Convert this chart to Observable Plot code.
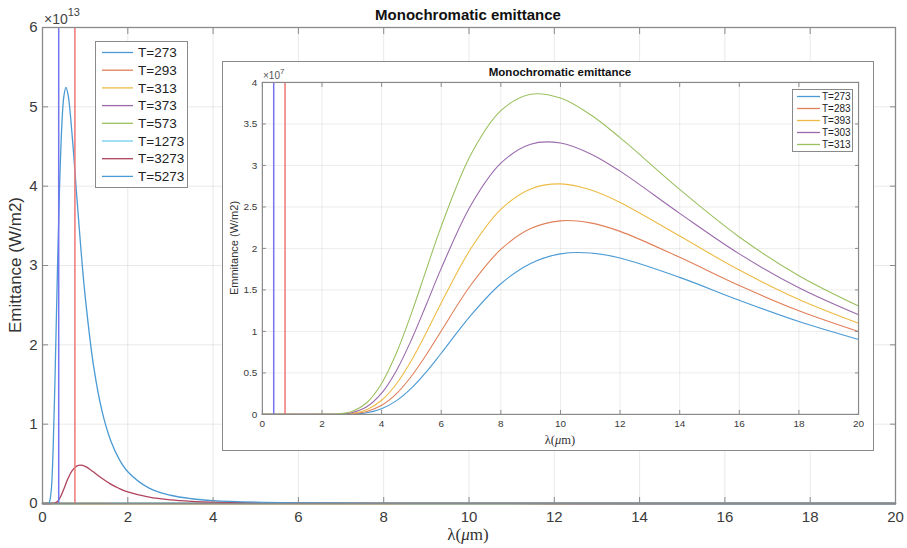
<!DOCTYPE html>
<html><head><meta charset="utf-8">
<script src="https://cdn.jsdelivr.net/npm/d3@7"></script>
<script src="https://cdn.jsdelivr.net/npm/@observablehq/plot@0.6"></script>
<style>
body{margin:0;background:#fff;font-family:"Liberation Sans",Arial,sans-serif;}
#wrap{position:relative;width:907px;height:548px;overflow:hidden;}
.abs{position:absolute;white-space:nowrap;color:#333;}
.leg{position:absolute;background:#fff;border:1px solid #8a8a8a;box-sizing:border-box;}
</style>
</head><body><div id="wrap"></div>
<script>
// ---------- data (main chart, emittance in units of 1e13 W/m2 per m) ----------
const xTicks = [0, 2, 4, 6, 8, 10, 12, 14, 16, 18, 20];
const yTicksMain = [0, 1, 2, 3, 4, 5, 6];
const yTicksInset = [0, 0.5, 1, 1.5, 2, 2.5, 3, 3.5, 4];
const visibleBounds = [0.38, 0.76];
const boundColors = ["#7474f2", "#f07676"];

const mainLabels = ["T=273", "T=293", "T=313", "T=373", "T=573", "T=1273", "T=3273", "T=5273"];
const mainColors = ["#4a9ad4", "#e0805a", "#edbb45", "#9a6aab", "#9cc060", "#72cdf0", "#b0425c", "#4a9ad4"];

const lamLow = [0, 2, 5, 10, 15, 20];
const emMain273 = [0, 0, 0.0000003, 0.0000019, 0.0000016, 0.0000009];
const emMain293 = [0, 0, 0.0000007, 0.0000028, 0.0000020, 0.0000011];
const emMain313 = [0, 0, 0.0000012, 0.0000038, 0.0000025, 0.0000013];
const emMain373 = [0, 0, 0.0000046, 0.0000083, 0.0000044, 0.0000020];
const emMain573 = [0, 0.0000040, 0.0000790, 0.0000420, 0.0000150, 0.0000060];

const lam1273 = [0, 1, 1.5, 2, 2.5, 3, 4, 6, 8, 10, 15, 20];
const em1273 = [0, 0.00046, 0.0026, 0.0041, 0.0042, 0.0036, 0.0023, 0.00086, 0.00037, 0.00018, 0.00004, 0.000015];

const lam3273 = [0, 0.2, 0.25, 0.3, 0.35, 0.4, 0.45, 0.5, 0.6, 0.7, 0.8, 0.9, 1.0, 1.1, 1.2, 1.4, 1.6, 1.8, 2, 2.5, 3, 3.5, 4, 5, 6, 8, 10, 12, 15, 20];
const em3273 = [0, 0.00003, 0.0009, 0.0067, 0.025, 0.0616, 0.116, 0.182, 0.317, 0.418, 0.471, 0.483, 0.467, 0.435, 0.396, 0.315, 0.244, 0.189, 0.146, 0.080, 0.046, 0.028, 0.018, 0.0085, 0.0045, 0.0016, 0.0007, 0.0003, 0.00014, 0.00005];

const lam5273 = [0, 0.1, 0.15, 0.2, 0.25, 0.3, 0.35, 0.4, 0.45, 0.5, 0.55, 0.6, 0.7, 0.8, 0.9, 1.0, 1.2, 1.4, 1.6, 1.8, 2, 2.5, 3, 3.5, 4, 5, 6, 8, 10, 12, 15, 20];
const em5273 = [0, 0.00001, 0.0062, 0.139, 0.698, 1.728, 2.932, 3.987, 4.728, 5.129, 5.245, 5.151, 4.609, 3.899, 3.211, 2.614, 1.725, 1.155, 0.792, 0.557, 0.401, 0.194, 0.104, 0.060, 0.037, 0.0165, 0.0084, 0.0028, 0.0012, 0.0006, 0.00025, 0.00008];

// ---------- data (inset, emittance in units of 1e7) ----------
const insetLabels = ["T=273", "T=283", "T=393", "T=303", "T=313"];
const insetColors = ["#4a9ad4", "#e0805a", "#edbb45", "#9a6aab", "#9cc060"];
const lamInset = [0, 1, 2, 2.5, 3, 3.5, 4, 4.5, 5, 5.5, 6, 7, 8, 9, 10, 11, 12, 14, 16, 18, 20];
const emIn273 = [0, 0, 0, 0.0003, 0.0036, 0.0206, 0.0693, 0.1662, 0.3166, 0.5125, 0.7373, 1.1967, 1.5744, 1.8194, 1.9340, 1.9452, 1.8844, 1.6510, 1.3753, 1.1195, 0.9032];
const emIn283 = [0, 0, 0, 0.0006, 0.0067, 0.0350, 0.1104, 0.2514, 0.4596, 0.7191, 1.0056, 1.5618, 1.9878, 2.2392, 2.3324, 2.3077, 2.2055, 1.8922, 1.5523, 1.2491, 0.9989];
const emIn293 = [0, 0, 0, 0.0011, 0.0120, 0.0575, 0.1703, 0.3698, 0.6501, 0.9858, 1.3429, 2.0016, 2.4702, 2.7173, 2.7774, 2.7063, 2.5544, 2.1494, 1.7389, 1.3844, 1.0979];
const emIn303 = [0, 0, 0.0001, 0.0022, 0.0206, 0.0913, 0.2554, 0.5301, 0.8990, 1.3238, 1.7595, 2.5235, 3.0268, 3.2563, 3.2707, 3.1419, 2.9311, 2.4226, 1.9342, 1.5249, 1.2000];
const emIn313 = [0, 0, 0.0001, 0.0040, 0.0341, 0.1408, 0.3731, 0.7425, 1.2177, 1.7443, 2.2660, 3.1349, 3.6605, 3.8576, 3.8115, 3.6136, 3.3348, 2.7107, 2.1381, 1.6702, 1.3053];

// ---------- build tables ----------
const mainSeries = [
  [lamLow, emMain273], [lamLow, emMain293], [lamLow, emMain313], [lamLow, emMain373],
  [lamLow, emMain573], [lam1273, em1273], [lam3273, em3273], [lam5273, em5273]
].map(([xs, ys], i) => xs.map((x, j) => ({lam: x, em: ys[j], label: mainLabels[i]})));
const insetSeries = [emIn273, emIn283, emIn293, emIn303, emIn313]
  .map((ys, i) => lamInset.map((x, j) => ({lam: x, em: ys[j], label: insetLabels[i]})));

const wrap = document.getElementById("wrap");
const fmt = d => String(d);

function axes(ticksX, ticksY, ts, padX, padY, fs) {
  const common = {stroke: "#8a8a8a", fill: "#3a3a3a", label: null, fontSize: fs};
  return [
    Plot.axisX(ticksX, {...common, anchor: "bottom", tickSize: -ts, tickPadding: padX, tickFormat: fmt}),
    Plot.axisX(ticksX, {...common, anchor: "top", tickSize: -ts, tickFormat: () => ""}),
    Plot.axisY(ticksY, {...common, anchor: "left", tickSize: -ts, tickPadding: padY, tickFormat: fmt}),
    Plot.axisY(ticksY, {...common, anchor: "right", tickSize: -ts, tickFormat: () => ""})
  ];
}

// ---------- main chart ----------
const main = Plot.plot({
  width: 907, height: 548,
  marginLeft: 42, marginRight: 12, marginTop: 27, marginBottom: 45,
  x: {domain: [0, 20]},
  y: {domain: [0, 6]},
  style: {fontFamily: "Liberation Sans, Arial, sans-serif", fontSize: "15px", background: "white", overflow: "visible"},
  marks: [
    Plot.gridX(xTicks, {stroke: "#000", strokeOpacity: 0.09}),
    Plot.gridY(yTicksMain, {stroke: "#000", strokeOpacity: 0.09}),
    ...mainSeries.map((s, i) => Plot.line(s, {x: "lam", y: "em", stroke: mainColors[i], strokeWidth: 1.3, curve: "catmull-rom"})),
    ...visibleBounds.map((b, i) => Plot.ruleX([b], {stroke: boundColors[i], strokeWidth: 1.5})),
    Plot.frame({stroke: "#8a8a8a", strokeWidth: 1.3}),
    ...axes(xTicks, yTicksMain, 6, 14, 11, 15)
  ]
});
main.style.position = "absolute"; main.style.left = "0px"; main.style.top = "0px";
wrap.appendChild(main);

// ---------- inset ----------
const inset = Plot.plot({
  width: 652, height: 390,
  marginLeft: 40, marginRight: 14, marginTop: 21, marginBottom: 36,
  x: {domain: [0, 20]},
  y: {domain: [0, 4]},
  style: {fontFamily: "Liberation Sans, Arial, sans-serif", fontSize: "10px", background: "white", overflow: "visible"},
  marks: [
    Plot.gridX(xTicks, {stroke: "#000", strokeOpacity: 0.08}),
    Plot.gridY(yTicksInset, {stroke: "#000", strokeOpacity: 0.08}),
    ...insetSeries.map((s, i) => Plot.line(s, {x: "lam", y: "em", stroke: insetColors[i], strokeWidth: 1.1, curve: "catmull-rom"})),
    ...visibleBounds.map((b, i) => Plot.ruleX([b], {stroke: boundColors[i], strokeWidth: 1.5})),
    Plot.frame({stroke: "#8a8a8a", strokeWidth: 1.2}),
    ...axes(xTicks, yTicksInset, 4, 10, 9, 10)
  ]
});
const insetBox = document.createElement("div");
insetBox.style.cssText = "position:absolute;left:222px;top:61px;width:652px;height:390px;border:1.5px solid #8a8a8a;box-sizing:border-box;background:#fff;overflow:hidden;";
inset.style.position = "absolute"; inset.style.left = "-1.5px"; inset.style.top = "-1.5px";
insetBox.appendChild(inset);
wrap.appendChild(insetBox);

// ---------- text helpers ----------
function addText(html, cx, cy, css, rot) {
  const d = document.createElement("div");
  d.className = "abs";
  d.innerHTML = html;
  d.style.cssText += `left:${cx}px;top:${cy}px;transform:translate(-50%,-50%)${rot ? " rotate(-90deg)" : ""};` + css;
  wrap.appendChild(d);
}
function addLeft(html, x, y, css) {
  const d = document.createElement("div");
  d.className = "abs";
  d.innerHTML = html;
  d.style.cssText += `left:${x}px;top:${y}px;` + css;
  wrap.appendChild(d);
}

// titles and labels
addText("Monochromatic emittance", 468, 14, "font-weight:bold;font-size:15px;color:#111;");
addText("Emittance (W/m2)", 16, 265, "font-size:17px;color:#333;", true);
addText("λ(<i>μ</i>m)", 468, 535, "font-size:17px;color:#333;font-family:'Liberation Serif',serif;");
addLeft("×10<sup style='font-size:11px;position:relative;top:-2px'>13</sup>", 44, 4, "font-size:14px;color:#444;line-height:20px;");

addText("Monochromatic emittance", 560, 72, "font-weight:bold;font-size:11.5px;color:#111;");
addText("Emmitance (W/m2)", 234, 248, "font-size:11px;color:#333;", true);
addText("λ(<i>μ</i>m)", 560, 440, "font-size:12.5px;color:#333;font-family:'Liberation Serif',serif;");
addLeft("×10<sup style='font-size:8px;position:relative;top:-1px'>7</sup>", 263, 66, "font-size:10px;color:#555;line-height:14px;");

// legends
function legend(labels, colors, left, top, w, h, first, step, lx1, lx2, tx, fs) {
  const box = document.createElement("div");
  box.className = "leg";
  box.style.cssText += `left:${left}px;top:${top}px;width:${w}px;height:${h}px;`;
  const svg = d3.create("svg").attr("width", w).attr("height", h).style("position", "absolute").style("left", "-1px").style("top", "-1px");
  labels.forEach((lab, i) => {
    const y = first + i * step;
    svg.append("line").attr("x1", lx1).attr("x2", lx2).attr("y1", y).attr("y2", y).attr("stroke", colors[i]).attr("stroke-width", 1.3);
    svg.append("text").attr("x", tx).attr("y", y).attr("dy", "0.35em").attr("font-size", fs).attr("fill", "#222")
      .attr("font-family", "Liberation Sans, Arial, sans-serif").text(lab);
  });
  box.appendChild(svg.node());
  wrap.appendChild(box);
}
legend(mainLabels, mainColors, 95, 41, 93, 147, 11.5, 17.7, 7, 38, 43, 13.5);
legend(insetLabels, insetColors, 792, 89, 61, 63, 7.5, 12, 5, 28, 30, 10);
</script>
</body></html>
